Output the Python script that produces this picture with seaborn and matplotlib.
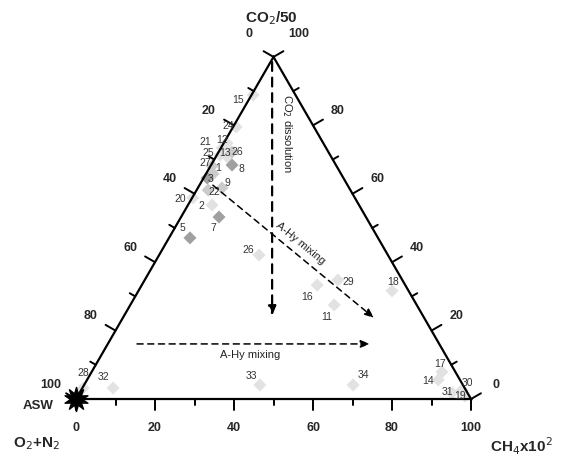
import numpy as np
import pandas as pd
import matplotlib
matplotlib.use("Agg")
import matplotlib.pyplot as plt
import seaborn as sns

sns.set_style("white")
plt.rcParams['font.family'] = ['Liberation Sans', 'DejaVu Sans']

# ---- data: ternary compositions (CH4, CO2 in %; O2+N2 = remainder) ----
labels = ["15", "24", "21", "12", "25", "13", "26", "8", "27", "1", "3", "9",
          "22", "20", "2", "7", "5", "26", "29", "16", "11", "18", "28", "32",
          "33", "34", "17", "14", "31", "30", "19"]
ch4 = [0.4, 0.8, 0.3, 0.8, 0.8, 2.9, 3.4, 5.3, 0.4, 1.8, 0.9, 6.1,
       2.9, 0.2, 6.1, 9.6, 5.3, 25.3, 48.9, 44.4, 51.6, 64.2, 0.2, 7.8,
       44.5, 68.1, 88.7, 88.9, 94.3, 96.4, 98.0]
co2 = [88.9, 79.5, 73.4, 74.8, 71.3, 70.8, 72.2, 68.4, 68.1, 65.8, 64.6, 61.7,
       61.1, 58.8, 56.7, 53.2, 47.1, 42.1, 34.8, 33.3, 27.5, 31.6, 3.2, 3.2,
       4.1, 4.1, 7.9, 5.6, 1.8, 2.6, 0.9]
tone = ["faint", "faint", "faint", "faint", "faint", "faint", "light", "mid",
        "light", "light", "mid", "light", "light", "faint", "faint", "mid", "mid",
        "faint", "faint", "faint", "faint", "faint", "faint", "faint",
        "faint", "faint", "faint", "faint", "faint", "faint", "faint"]

tick_values = [0, 10, 20, 30, 40, 50, 60, 70, 80, 90, 100]
major_ticks = [0, 20, 40, 60, 80, 100]

# label offsets in pixels (style)
label_off = [(-15, -5), (-8, 1), (-17, 6), (-5, 3), (-12, 2), (-2, 4), (5, 0),
             (9, -4), (-7, 3), (5, 6), (3, -1), (5, 5), (6, -2), (-13, -1),
             (-11, -1), (-6, -11), (-8, 10), (-11, 5), (10, -2), (-10, -12),
             (-7, -12), (1, 9), (0, 15), (-10, 11), (-8, 9), (10, 10), (-2, 8),
             (-10, -1), (-5, 1), (5, 7), (-5, 0)]

H = np.sqrt(3) / 2


def tern(b, c):
    b = np.asarray(b, float)
    c = np.asarray(c, float)
    return b + c / 2, c * H


fig = plt.figure(figsize=(5.61, 4.57), dpi=100)
ax = fig.add_axes([0, 0, 1, 1])
ax.set_xlim(-19.24, 122.78)
ax.set_ylim(-14.68, 101.01)
ax.set_aspect('equal')
ax.axis('off')

# triangle
vx, vy = tern([0, 100, 0, 0], [0, 0, 100, 0])
ax.plot(vx, vy, color='black', lw=1.6, solid_joinstyle='miter', zorder=3)

# ticks & tick labels
tk_font = dict(fontsize=9, fontweight='bold', ha='center', va='center')
for v in tick_values:
    L = 2.9 if v in major_ticks else 1.6
    # bottom axis: CH4
    px, py = tern(v, 0)
    ax.plot([px, px], [py, py - L], color='black', lw=1.4, zorder=3)
    # left axis: O2+N2 (point with c = 100 - v)
    lx, ly = tern(0, 100 - v)
    d = np.array([-H, 0.5])
    ax.plot([lx, lx + d[0] * L], [ly, ly + d[1] * L], color='black', lw=1.4, zorder=3)
    # right axis: CO2
    rx, ry = tern(100 - v, v)
    e = np.array([H, 0.5])
    ax.plot([rx, rx + e[0] * L], [ry, ry + e[1] * L], color='black', lw=1.4, zorder=3)
    if v in major_ticks:
        ax.text(px, py - 7.4, str(v), **tk_font)
        ax.text(lx + d[0] * 7.3, ly + d[1] * 7.3 + (2.2 if v == 0 else 0), str(v), **tk_font)
        ax.text(rx + e[0] * 7.3, ry + e[1] * 7.3 + (2.2 if v == 100 else 0), str(v), **tk_font)

# data points
x, y = tern(ch4, co2)
df = pd.DataFrame({"x": x, "y": y, "tone": tone, "label": labels})
sns.scatterplot(data=df, x="x", y="y", hue="tone",
                palette={"faint": "#e2e2e2", "light": "#cbcbcb", "mid": "#a0a0a0"},
                marker="D", s=44, edgecolor="none", legend=False, ax=ax, zorder=2)
for (xx, yy, lab, off) in zip(x, y, labels, label_off):
    ax.annotate(lab, (xx, yy), xytext=off, textcoords='offset pixels',
                fontsize=7.5, color='#333333', ha='center', va='center', zorder=4)

# ASW star
sx, sy = tern(0, 0)
ax.scatter([sx], [sy], marker=(10, 1, 0), s=300, color='black', zorder=5)
ax.text(sx - 9.5, sy - 1.8, "ASW", fontsize=9.5, fontweight='bold', ha='center', va='center')

# arrows
arrows = [((0.4, 98.5), (37.5, 24.3)),
          ((3.4, 62.5), (63.6, 23.7)),
          ((7.4, 16.1), (66.4, 16.1))]
widths = [1.6, 1.1, 1.1]
for (s, t), w in zip(arrows, widths):
    x0, y0 = tern(*s)
    x1, y1 = tern(*t)
    ax.annotate("", xy=(x1, y1), xytext=(x0, y0),
                arrowprops=dict(arrowstyle='-|>,head_length=0.55,head_width=0.22',
                                linestyle=(0, (4, 3)), lw=w, color='black',
                                shrinkA=0, shrinkB=0), zorder=4)

# arrow texts
ax.text(53.4, 67.3, "CO$_2$ dissolution", rotation=-90, fontsize=8,
        ha='center', va='center', color='#222222')
ax.text(56.7, 39.3, "A-Hy mixing", rotation=-39.5, fontsize=8,
        ha='center', va='center', color='#222222', rotation_mode='anchor')
ax.text(44.1, 11.1, "A-Hy mixing", fontsize=8, ha='center', va='center', color='#222222')

# component labels
ax.text(49.6, 96.5, "CO$_2$/50", fontsize=11, fontweight='bold', ha='center', va='center')
ax.text(-9.9, -11.2, "O$_2$+N$_2$", fontsize=11, fontweight='bold', ha='center', va='center')
ax.text(112.7, -11.9, "CH$_4$x10$^2$", fontsize=11, fontweight='bold', ha='center', va='center')

fig.savefig("out.png", dpi=100)
